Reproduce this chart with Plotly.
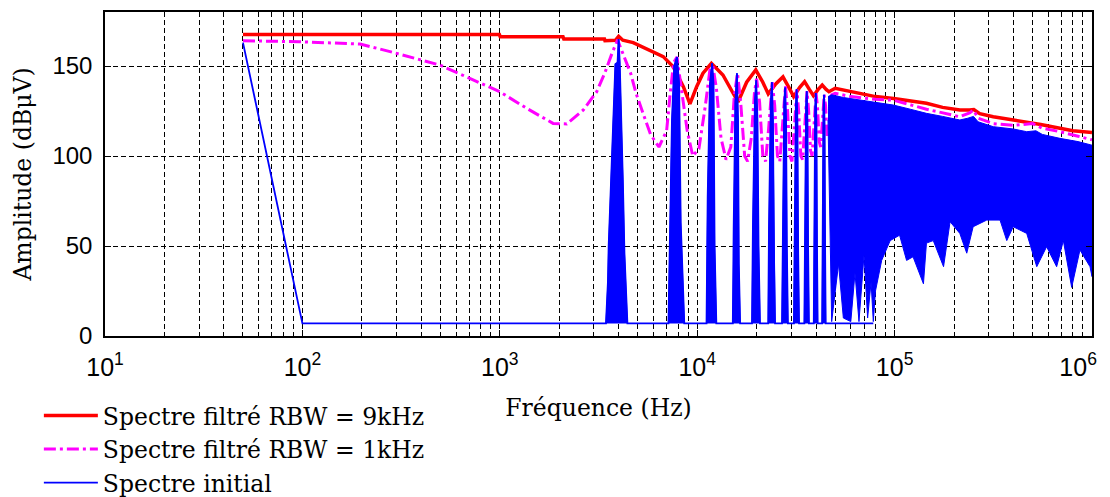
import plotly.graph_objects as go

# ---------------- data ----------------
# Spectre filtré RBW = 9kHz
red_f = [50, 995, 1005, 2090, 2110, 3390, 3410, 3850, 4000, 4200, 4740, 5770, 6730, 7560, 8510, 9190,
         9935, 10700, 11800, 13500, 15200, 16100, 17800, 19800, 21500, 22900, 25000, 27200, 29500,
         30800, 33000, 35000, 37000, 38800, 41000, 43000, 45000, 46500, 50000, 58000, 67000, 80000,
         99000, 120000, 145000, 175000, 214000, 240000, 252000, 270000, 316000, 400000, 467000,
         550000, 688000, 800000, 1000000]
red_a = [167.5, 167.5, 166.3, 166.3, 165.0, 165.0, 164.0, 164.3, 166.5, 164.3, 163.0, 158.9, 155.2,
         149.6, 138.5, 129.0, 138.5, 146.0, 151.5, 145.0, 134.8, 130.0, 141.0, 147.8, 141.0, 134.5,
         140.0, 144.0, 137.0, 133.0, 138.0, 141.3, 137.0, 133.5, 137.0, 139.4, 137.0, 135.7, 137.6,
         136.0, 134.8, 133.0, 132.0, 130.5, 129.3, 127.0, 125.5, 125.5, 125.8, 123.5, 121.8, 120.0,
         119.0, 117.5, 115.4, 114.0, 113.0]

# Spectre filtré RBW = 1kHz
mag_f = [50, 97, 196, 278, 498, 794, 1000, 1368, 1862, 2183, 2650, 3097, 3400, 3700, 3950, 4200,
         4600, 4900, 5300, 5800, 6400, 7000, 7300, 7600, 7900, 8300, 8900, 9500, 10200, 11000,
         11600, 12000, 12500, 13200, 14000, 14800, 15400, 16000, 16600, 17400, 18000, 18800,
         19500, 20000, 20700, 21500, 22200, 23000, 23600, 24000, 24700, 25500, 26200, 27200,
         28000, 28700, 29500, 30200, 31200, 32000, 32700, 33500, 34200, 35200, 36000, 36700,
         37500, 38200, 39200, 40000, 40700, 41500, 42200, 43200, 44000, 44700, 45500, 46200,
         47200, 48000, 50000, 60000, 80000, 98600, 145000, 214000, 240000, 251000, 265000,
         316000, 400000, 500000, 560000, 688000, 850000, 1000000]
mag_a = [164.0, 163.5, 162.2, 158.0, 150.5, 140.4, 135.7, 126.5, 118.1, 117.8, 125.6, 135.7, 146.0,
         157.0, 164.5, 157.0, 146.0, 134.8, 123.7, 112.0, 105.0, 114.0, 135.0, 152.0, 155.0, 138.0,
         114.0, 100.0, 104.0, 128.0, 148.0, 150.0, 138.0, 110.0, 98.0, 105.0, 133.0, 146.0, 130.0,
         100.0, 97.0, 110.0, 135.0, 143.0, 130.0, 100.0, 97.0, 115.0, 132.0, 141.0, 128.0, 100.0,
         97.0, 120.0, 139.0, 125.0, 100.0, 97.0, 118.0, 137.0, 124.0, 100.0, 98.0, 118.0, 136.0,
         125.0, 103.0, 100.0, 120.0, 135.0, 127.0, 108.0, 105.0, 122.0, 134.0, 128.0, 112.0, 112.0,
         126.0, 134.0, 134.8, 133.0, 131.5, 131.0, 126.0, 121.8, 124.0, 125.5, 121.0, 118.0, 117.0,
         118.0, 115.5, 113.5, 111.0, 109.0]

# Spectre initial : low-frequency part
blue_low_f = [50, 100]
blue_low_a = [163.0, 7.0]

# Spectre initial : harmonic lines (each starts and ends on the 7 dB floor)
blue_spike_f = [
    [3450, 3530, 3560, 3650, 3770, 3850, 3950, 4000, 4050, 4140, 4200, 4280, 4370, 4430],
    [7150, 7250, 7300, 7450, 7650, 7900, 8100, 8250, 8450, 8600],
    [11150, 11300, 11600, 11900, 12100, 12250, 12500],
    [15150, 15300, 15600, 15900, 16100, 16250, 16500],
    [18950, 19150, 19600, 19900, 20200, 20450, 20800],
    [22900, 23100, 23600, 23900, 24200, 24450, 24800],
    [26900, 27100, 27600, 27900, 28200, 28450, 28800],
    [30900, 31100, 31600, 31900, 32200, 32450, 32800],
    [34900, 35100, 35600, 35900, 36200, 36450, 36800],
    [38950, 39100, 39600, 39900, 40200, 40450, 40750],
    [42950, 43100, 43600, 43900, 44200, 44450, 44750],
]
blue_spike_a = [
    [7, 30, 50, 85, 120, 151, 152, 165, 152, 120, 87, 46, 16, 7],
    [7, 40, 66, 120, 150, 155, 140, 63, 31, 7],
    [7, 77, 140, 151.5, 140, 50, 7],
    [7, 59, 130, 146, 120, 40, 7],
    [7, 60, 130, 142, 120, 50, 7],
    [7, 60, 130, 141, 120, 50, 7],
    [7, 60, 130, 138, 120, 50, 7],
    [7, 60, 128, 137, 118, 50, 7],
    [7, 60, 128, 136, 118, 50, 7],
    [7, 60, 127, 135, 117, 50, 7],
    [7, 60, 126, 134, 116, 50, 7],
]
blue_floor_end_f = 78000
blue_floor_a = 7.0

# Spectre initial : dense part (upper and lower envelopes)
band_up_f = [46000, 48000, 55000, 66800, 80000, 98600, 120000, 145000, 175000, 214000, 235000,
             251000, 265000, 316000, 400000, 467000, 520000, 560000, 688000, 850000, 1000000]
band_up_a = [133.0, 134.0, 132.5, 131.0, 130.0, 128.3, 126.0, 123.7, 122.0, 120.0, 121.0, 122.0,
             119.0, 116.3, 115.0, 113.5, 114.0, 112.0, 109.8, 108.0, 106.0]
band_lo_f = [46000, 48000, 52000, 55000, 60000, 63000, 66000, 70000, 73000, 76000, 78000, 80000,
             86000, 95000, 106000, 115000, 124000, 140000, 145000, 157000, 177000, 191000, 214000,
             232000, 250000, 293000, 342000, 370000, 399000, 467000, 525000, 589000, 662000,
             716000, 789000, 869000, 977000, 1000000]
band_lo_a = [120.0, 8.0, 40.0, 10.0, 8.0, 35.0, 8.0, 45.0, 10.0, 30.0, 8.0, 25.0, 42.0, 53.0, 56.0,
             42.0, 44.0, 29.0, 51.6, 53.0, 38.5, 63.5, 57.0, 46.0, 60.7, 64.4, 64.4, 53.0, 60.7, 57.0,
             38.5, 49.6, 38.5, 53.0, 27.0, 47.8, 38.5, 33.0]

x_tickvals = [1e1, 1e2, 1e3, 1e4, 1e5, 1e6]
x_ticktext = ["10<sup>1</sup>", "10<sup>2</sup>", "10<sup>3</sup>", "10<sup>4</sup>",
              "10<sup>5</sup>", "10<sup>6</sup>&nbsp;&nbsp;&nbsp;&nbsp;"]
y_tickvals = [0, 50, 100, 150]

# ---------------- build traces ----------------
RED = "#FF0000"
MAG = "#FF00FF"
BLUE = "#0000FF"

line_x = list(blue_low_f)
line_y = list(blue_low_a)
fill_x, fill_y = [], []
for fs, amps in zip(blue_spike_f, blue_spike_a):
    line_x += fs
    line_y += amps
    fill_x += fs + [None]
    fill_y += amps + [None]
line_x.append(blue_floor_end_f)
line_y.append(blue_floor_a)
fill_x += band_up_f + band_lo_f[::-1]
fill_y += band_up_a + band_lo_a[::-1]

fig = go.Figure()
fig.add_trace(go.Scatter(x=red_f, y=red_a, mode="lines", name="Spectre filtré RBW = 9kHz",
                         line=dict(color=RED, width=3.5)))
fig.add_trace(go.Scatter(x=mag_f, y=mag_a, mode="lines", name="Spectre filtré RBW = 1kHz",
                         line=dict(color=MAG, width=3, dash="12px,4px,3px,4px")))
fig.add_trace(go.Scatter(x=line_x, y=line_y, mode="lines", name="Spectre initial",
                         line=dict(color=BLUE, width=1.8)))
fig.add_trace(go.Scatter(x=fill_x, y=fill_y, mode="lines", fill="toself", fillcolor=BLUE,
                         line=dict(color=BLUE, width=1), showlegend=False, hoverinfo="skip"))

grid_dash = "5px,3px"
# the page body keeps its default 8 px margin, so the figure is 8 px smaller than the window
fig.update_layout(
    width=1102, height=489,
    margin=dict(l=97, r=18, t=4, b=161, autoexpand=False),
    paper_bgcolor="white", plot_bgcolor="white",
    showlegend=True,
    legend=dict(x=-0.067, y=-0.178, xanchor="left", yanchor="top",
                font=dict(family="DejaVu Serif", size=23.5, color="black"),
                bgcolor="rgba(0,0,0,0)", itemwidth=54, tracegroupgap=0),
)
fig.update_xaxes(
    type="log", range=[0.99999, 6.00001],
    tickmode="array", tickvals=x_tickvals, ticktext=x_ticktext,
    tickfont=dict(family="Liberation Sans", size=25, color="black"),
    ticks="inside", ticklen=6, tickcolor="black", ticklabelstandoff=8,
    ticklabeloverflow="allow",
    showline=True, linecolor="black", linewidth=1.5, mirror="allticks",
    showgrid=True, gridcolor="black", gridwidth=1, griddash=grid_dash,
    minor=dict(dtick="D1", showgrid=True, gridcolor="black", gridwidth=1, griddash=grid_dash,
               ticks="inside", ticklen=4, tickcolor="black"),
    zeroline=False,
    title=dict(text="Fréquence (Hz)", font=dict(family="DejaVu Serif", size=23.5, color="black"),
               standoff=20),
)
fig.update_yaxes(
    range=[0, 180], tickmode="array", tickvals=y_tickvals,
    tickfont=dict(family="Liberation Sans", size=24, color="black"),
    ticks="inside", ticklen=6, tickcolor="black", ticklabelstandoff=6,
    showline=True, linecolor="black", linewidth=1.5, mirror="allticks",
    showgrid=True, gridcolor="black", gridwidth=1, griddash=grid_dash,
    zeroline=False,
    title=dict(text="Amplitude (dBμV)", font=dict(family="DejaVu Serif", size=23.5, color="black"),
               standoff=14),
)

fig.write_html("out.html")
